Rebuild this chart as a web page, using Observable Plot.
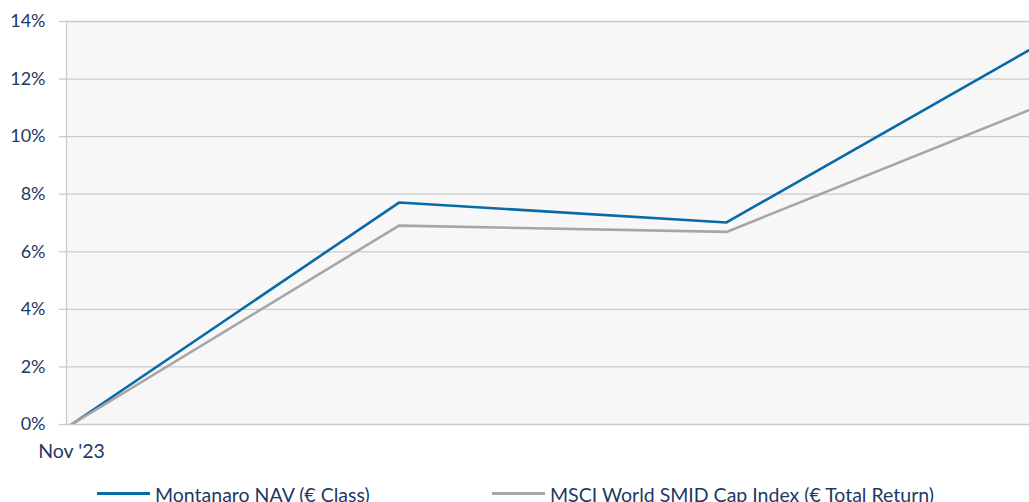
<!DOCTYPE html>
<html><head><meta charset="utf-8">
<script src="https://cdn.jsdelivr.net/npm/d3@7"></script>
<script src="https://cdn.jsdelivr.net/npm/@observablehq/plot@0.6"></script>
<style>
body{margin:0;background:#fff;font-family:Lato,sans-serif;}
#wrap{position:relative;width:1029px;height:502px;overflow:hidden;}
#chart{position:absolute;left:0;top:0;}
.lg{position:absolute;top:485px;height:19.5px;line-height:19.5px;font-size:19.5px;color:#1f3864;white-space:nowrap;}
.sw{position:absolute;height:3px;top:492px;}
</style></head><body>
<div id="wrap"><div id="chart"></div><div id="legend"></div></div>
<script>
const periods = [0, 1, 2, 3];
const periodLabels = ["Nov '23"];
const montanaro = [0, 7.71, 7.02, 13.5];
const msci = [0, 6.91, 6.69, 11.27];
const seriesNames = ["Montanaro NAV (€ Class)", "MSCI World SMID Cap Index (€ Total Return)"];
const seriesColors = ["#0a69a7", "#a6a6a6"];
const yTicks = [0, 2, 4, 6, 8, 10, 12, 14];

const data = [];
periods.forEach((p, i) => {
  data.push({period: p, value: montanaro[i], series: seriesNames[0]});
  data.push({period: p, value: msci[i], series: seriesNames[1]});
});

const chart = Plot.plot({
  width: 1029,
  height: 470,
  marginLeft: 66,
  marginRight: 0,
  marginTop: 21,
  marginBottom: 46,
  style: {fontFamily: "Lato, sans-serif", fontSize: "18px", color: "#1f3864", background: "transparent"},
  x: {type: "linear", domain: [-0.0153, 2.925], axis: null},
  y: {domain: [0, 14], axis: null},
  color: {domain: seriesNames, range: seriesColors},
  marks: [
    Plot.frame({fill: "#f7f7f7", stroke: null}),
    Plot.ruleY(yTicks, {stroke: "#cbcbcb", strokeWidth: 1.3}),
    Plot.axisY({ticks: yTicks, tickSize: 7, tickPadding: 14, stroke: "#cbcbcb", strokeOpacity: 1, strokeWidth: 1.3, color: "#1f3864", tickFormat: d => d + "%", label: null}),
    Plot.frame({anchor: "left", stroke: "#cbcbcb", strokeWidth: 1.3}),
    Plot.axisX({ticks: [0], tickSize: 0, tickPadding: 20, fontSize: 19.5, color: "#1f3864", tickFormat: (d, i) => periodLabels[i], label: null}),
    Plot.line(data, {x: "period", y: "value", stroke: "series", z: "series", strokeWidth: 2.6, clip: true})
  ]
});
document.getElementById("chart").appendChild(chart);

// legend
const lg = document.getElementById("legend");
const legendPos = [{sw: 97, tx: 155}, {sw: 492, tx: 550}];
seriesNames.forEach((name, i) => {
  const s = document.createElement("div");
  s.className = "sw";
  s.style.left = legendPos[i].sw + "px";
  s.style.width = "53px";
  s.style.background = seriesColors[i];
  lg.appendChild(s);
  const t = document.createElement("div");
  t.className = "lg";
  t.style.left = legendPos[i].tx + "px";
  t.textContent = name;
  lg.appendChild(t);
});
</script>
</body></html>
